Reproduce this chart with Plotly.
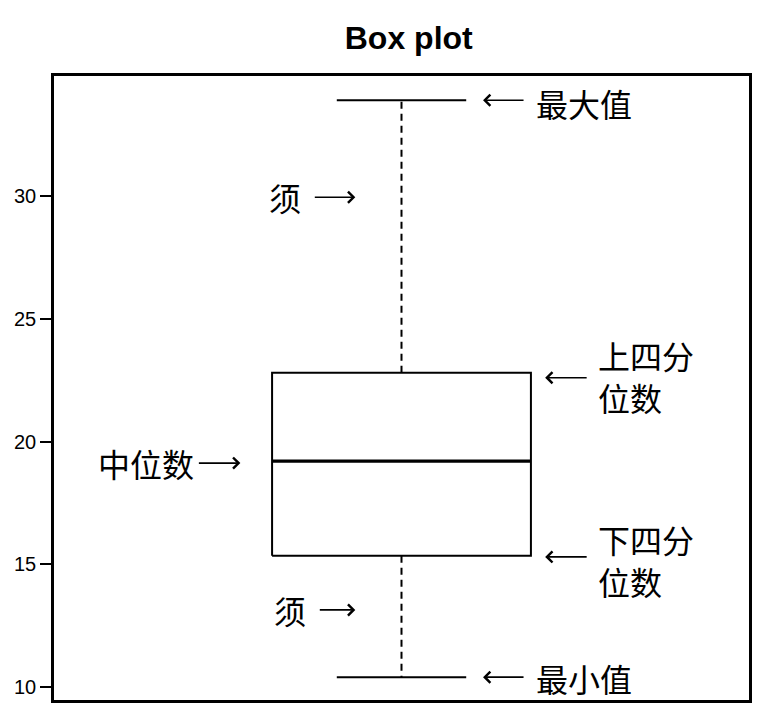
import plotly.graph_objects as go

# five-number summary (mtcars mpg style)
stat_names = ["最小值", "下四分位数", "中位数", "上四分位数", "最大值"]
stat_values = [10.4, 15.35, 19.2, 22.8, 33.9]
y_ticks = [10, 15, 20, 25, 30]

lo, q1, med, q3, hi = stat_values
c = 1.0        # box centre
bw = 0.2       # half box width
sw = 0.1       # half staple width

CJK = "Noto Sans CJK SC"
fig = go.Figure()

line = dict(color="black", width=2)
# box
fig.add_trace(go.Scatter(x=[c - bw, c + bw, c + bw, c - bw, c - bw],
                         y=[q1, q1, q3, q3, q1], mode="lines", line=line,
                         hoverinfo="skip"))
# median
fig.add_trace(go.Scatter(x=[c - bw, c + bw], y=[med, med], mode="lines",
                         line=dict(color="black", width=3.2), hoverinfo="skip"))
# whiskers (dashed)
fig.add_trace(go.Scatter(x=[c, c, None, c, c], y=[q3, hi, None, q1, lo],
                         mode="lines",
                         line=dict(color="black", width=2, dash="7px,5px"),
                         hoverinfo="skip"))
# staples
fig.add_trace(go.Scatter(x=[c - sw, c + sw, None, c - sw, c + sw],
                         y=[hi, hi, None, lo, lo], mode="lines", line=line,
                         hoverinfo="skip"))

def arrow(x, y, ax):
    fig.add_annotation(x=x, y=y, xref="x", yref="y", ax=ax, ay=0, text="",
                       showarrow=True, arrowhead=4, arrowsize=1.35,
                       arrowwidth=1.6, arrowcolor="black", standoff=0,
                       startstandoff=0)

def label(x, y, text, anchor="left"):
    fig.add_annotation(x=x, y=y, xref="x", yref="y", text=text,
                       showarrow=False, xanchor=anchor, yanchor="middle",
                       align="left",
                       font=dict(family=CJK, size=32, color="black"))

# max
arrow(1.126, hi, 42)
label(1.204, hi - 0.1, stat_names[4])
# min
arrow(1.126, lo, 42)
label(1.204, lo - 0.05, stat_names[0])
# upper quartile
arrow(1.222, 22.6, 43)
label(1.300, 22.67, "上四分<br>位数")
# lower quartile
arrow(1.222, 15.3, 43)
label(1.300, 15.17, "下四分<br>位数")
# median
arrow(0.751, 19.12, -43)
label(0.683, 19.12, stat_names[2], anchor="right")
# whiskers
arrow(0.9286, 29.95, -42)
label(0.8205, 29.95, "须", anchor="center")
arrow(0.9286, 13.14, -37)
label(0.828, 13.14, "须", anchor="center")

fig.update_layout(
    width=759, height=708,
    margin=dict(l=45.5, r=18, t=68, b=16, autoexpand=False),
    paper_bgcolor="white", plot_bgcolor="white",
    showlegend=False,
    title=dict(text="<b>Box plot</b>", x=0.528, xanchor="center",
               y=0.9576, yanchor="middle", yref="container",
               font=dict(family="Liberation Sans", size=32, color="black")),
    xaxis=dict(range=[0.463, 1.537], showticklabels=False, ticks="",
               showgrid=False, zeroline=False, showline=True, mirror=True,
               linecolor="black", linewidth=2.5, fixedrange=True,
               automargin=False),
    yaxis=dict(range=[9.47, 34.89], tickvals=y_ticks, ticks="outside",
               ticklen=11, tickwidth=1.5, tickcolor="black",
               showgrid=False, zeroline=False, showline=True, mirror=True,
               linecolor="black", linewidth=2.5, automargin=False,
               tickfont=dict(family="Liberation Sans", size=20, color="black")),
)

fig.write_html("out.html")
